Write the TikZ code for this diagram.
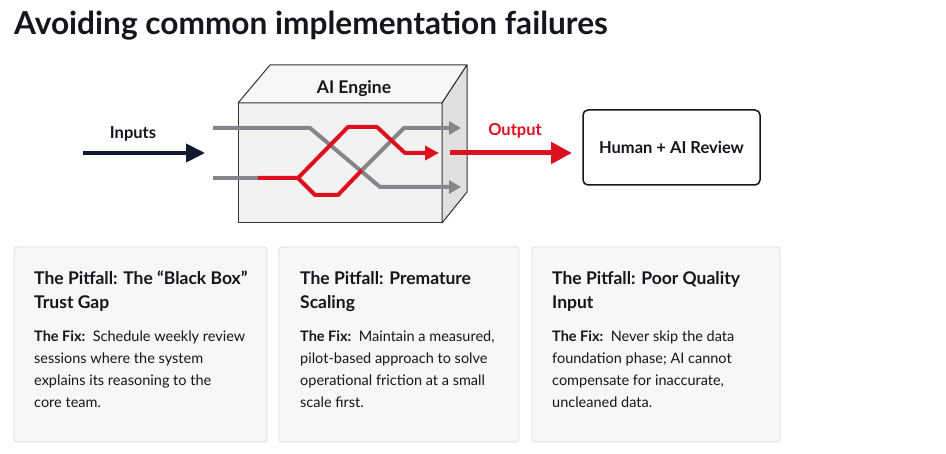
\documentclass[tikz,border=0pt]{standalone}
\usepackage{fontspec}
\setmainfont{Lato}
\usetikzlibrary{arrows.meta}
\definecolor{navy}{HTML}{111A33}
\definecolor{aired}{HTML}{DD1020}
\definecolor{lgray}{HTML}{85858C}
\definecolor{ink}{HTML}{15151C}
\definecolor{cardfill}{HTML}{F7F7F8}
\definecolor{cardline}{HTML}{DDDDE0}
\tikzset{
  titletext/.style={anchor=base west, inner sep=0, text=ink, font=\fontsize{31.6bp}{34bp}\selectfont\bfseries},
  lbl/.style={inner sep=0, font=\fontsize{16.5bp}{20bp}\selectfont\bfseries, text=ink},
  grayline/.style={draw=lgray, line width=4bp, line join=round},
  redline/.style={draw=aired, line width=4bp, line join=round},
  cardbox/.style={draw=cardline, fill=cardfill, rounded corners=3bp, line width=0.8bp},
  headtext/.style={anchor=north west, inner sep=0, align=left, text=ink, font=\fontsize{17.5bp}{24bp}\selectfont\bfseries},
  bodytext/.style={anchor=north west, inner sep=0, align=left, text=ink, font=\fontsize{14.5bp}{22bp}\selectfont},
  boxedge/.style={draw=black!80, line width=1bp, line join=round}
}
\begin{document}
\begin{tikzpicture}[x=1bp,y=-1bp]
\useasboundingbox[fill=white] (0,0) rectangle (946,454);

\node[titletext] (title) at (14,35) {Avoiding common implementation failures};

% engine box
\path[boxedge, fill=white!95!black] (238,103) rectangle (442,223);
\path[boxedge, fill=white!97!black] (238,103) -- (270,65) -- (467,65) -- (442,103) -- cycle;
\path[boxedge, fill=white!88!black] (442,103) -- (467,65) -- (467,192) -- (442,223) -- cycle;
\node[lbl, font=\fontsize{17.5bp}{20bp}\selectfont\bfseries] (engine) at (354,89) {AI Engine};

% inner paths
\coordinate (g1a) at (213,128);
\coordinate (g1b) at (310,128);
\coordinate (g1c) at (380,187);
\coordinate (g1d) at (461,187);
\coordinate (g2a) at (213,178);
\coordinate (g2b) at (258,178);
\coordinate (sp) at (298,178);
\coordinate (ru1) at (348,127);
\coordinate (ru2) at (377,127);
\coordinate (ru3) at (405,153);
\coordinate (ru4) at (439,153);
\coordinate (rl1) at (315,195);
\coordinate (rl2) at (338,195);
\coordinate (rl3) at (362,170);
\coordinate (gl1) at (404,128);
\coordinate (gl2) at (461,128);

\draw[grayline, -{Triangle[length=12bp,width=13bp]}] (g1a) -- (g1b) -- (g1c) -- (g1d);
\draw[grayline] (g2a) -- (g2b);
\draw[redline] (g2b) -- (sp) -- (rl1) -- (rl2) -- (rl3);
\draw[grayline, -{Triangle[length=12bp,width=13bp]}] (rl3) -- (gl1) -- (gl2);
\draw[redline, -{Triangle[length=14bp,width=14bp]}] (sp) -- (ru1) -- (ru2) -- (ru3) -- (ru4);

% inputs
\coordinate (inA) at (83,153);
\coordinate (inB) at (205,153);
\draw[navy, line width=4bp, -{Triangle[length=19bp,width=18bp]}] (inA) -- (inB);
\node[lbl] (inputs) at (133,134) {Inputs};

% output
\node[draw=ink, line width=1.5bp, rounded corners=5bp, minimum width=177bp, minimum height=75bp, inner sep=0,
      font=\fontsize{16.5bp}{20bp}\selectfont\bfseries, text=ink] (review) at (671.5,147.5) {Human + AI Review};
\coordinate (outA) at (450,153);
\coordinate (outB) at (572,153);
\draw[aired, line width=5bp, -{Triangle[length=21bp,width=21bp]}] (outA) -- (outB);
\node[lbl, text=aired] (output) at (515,131) {Output};

% cards
\path[cardbox] (14,247) rectangle (267,442);
\path[cardbox] (279,247) rectangle (519,442);
\path[cardbox] (532,247) rectangle (780,442);

\node[headtext] (h1) at (34,271) {The Pitfall: The “Black Box”\\Trust Gap};
\node[bodytext] (b1) at (34,331) {\textbf{The Fix:}\ \ Schedule weekly review\\sessions where the system\\explains its reasoning to the\\core team.};

\node[headtext] (h2) at (300,271) {The Pitfall: Premature\\Scaling};
\node[bodytext] (b2) at (300,331) {\textbf{The Fix:}\ \ Maintain a measured,\\pilot-based approach to solve\\operational friction at a small\\scale first.};

\node[headtext] (h3) at (552,271) {The Pitfall: Poor Quality\\Input};
\node[bodytext] (b3) at (552,331) {\textbf{The Fix:}\ \ Never skip the data\\foundation phase; AI cannot\\compensate for inaccurate,\\uncleaned data.};
\end{tikzpicture}
\end{document}
